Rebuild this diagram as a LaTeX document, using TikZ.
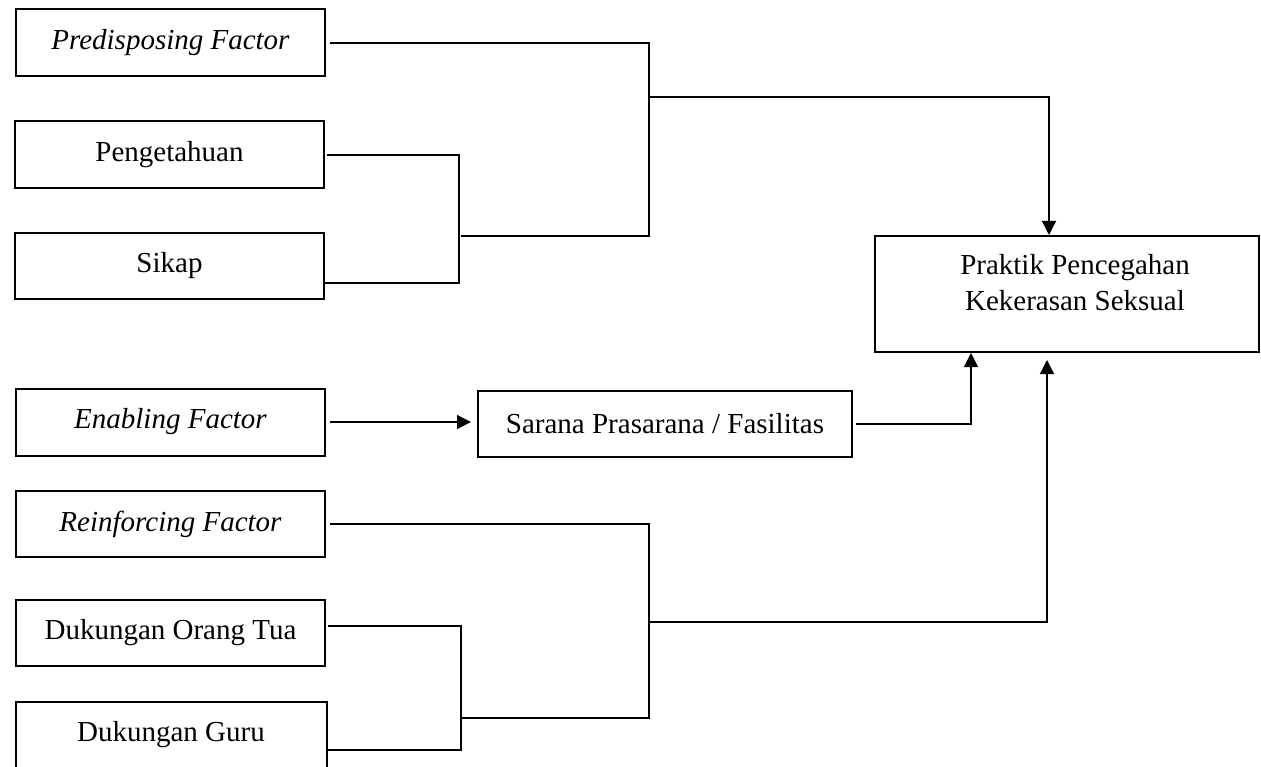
\documentclass[tikz,border=0pt]{standalone}
\usepackage{fontspec}
\setmainfont{Liberation Serif}
\usetikzlibrary{arrows.meta}
\begin{document}
\begin{tikzpicture}[x=1pt,y=-1pt,
 box/.style={draw, line width=2pt, minimum height=66pt, inner sep=0pt, font=\fontsize{29}{36}\selectfont},
 txt/.style={inner sep=0pt, align=center, font=\fontsize{29}{36}\selectfont},
 conn/.style={line width=1.2pt},
 arr/.style={conn, -{Triangle[length=14pt,width=14pt]}}]
\useasboundingbox (0,0) rectangle (1261,767);
% boxes
\node[box, minimum width=309pt, minimum height=67pt] (pf) at (170.5,43) {\textit{Predisposing Factor}};
\node[box, minimum width=309pt, minimum height=67pt] (pg) at (169.5,155) {Pengetahuan};
\node[box, minimum width=309pt] (sk) at (169.5,266) {Sikap};
\node[box, minimum width=309pt, minimum height=67pt] (ef) at (170.5,422) {\textit{Enabling Factor}};
\node[box, minimum width=374pt] (sp) at (665,424) {Sarana Prasarana / Fasilitas};
\node[box, minimum width=309pt] (rf) at (170.5,524) {\textit{Reinforcing Factor}};
\node[box, minimum width=309pt] (dot) at (170.5,633) {Dukungan Orang Tua};
\node[box, minimum width=311pt] (dg) at (171,735) {Dukungan Guru};
\node[box, minimum width=384pt, minimum height=116pt] (pp) at (1067,294) {};
\node[txt] (ppt) at (1075,283) {Praktik Pencegahan\\Kekerasan Seksual};
% junction coordinates
\coordinate (pv) at (649,236);
\coordinate (kv) at (461,236);
\coordinate (kb) at (459,283);
\coordinate (pj) at (649,97);
\coordinate (pa) at (1049,97);
\coordinate (sx) at (971,424);
\coordinate (rv) at (649,718);
\coordinate (dv) at (461,718);
\coordinate (rj) at (649,622);
\coordinate (ra) at (1047,622);
\coordinate (dt) at (461,626);
\coordinate (db) at (461,750);
% predisposing
\draw[conn, shorten <=4pt] (pf.east) -| (pv) -- (kv);
\draw[conn, shorten <=2pt] (pg.east) -| (kb) -- (sk.east |- kb);
\draw[arr] (pj) -- (pa) -- (pa |- pp.north);
% enabling
\draw[arr, shorten <=4pt, shorten >=6pt] (ef.east) -- (sp.west |- ef.east);
\draw[arr, shorten <=3pt] (sp.east) -- (sx) -- (sx |- pp.south);
% reinforcing
\draw[conn, shorten <=4pt] (rf.east) -| (rv) -- (dv);
\draw[conn, shorten <=2pt] (dot.east |- dt) -- (dt) -- (db) -- (dg.east |- db);
\draw[arr, shorten >=7pt] (rj) -- (ra) -- (ra |- pp.south);
\end{tikzpicture}
\end{document}
